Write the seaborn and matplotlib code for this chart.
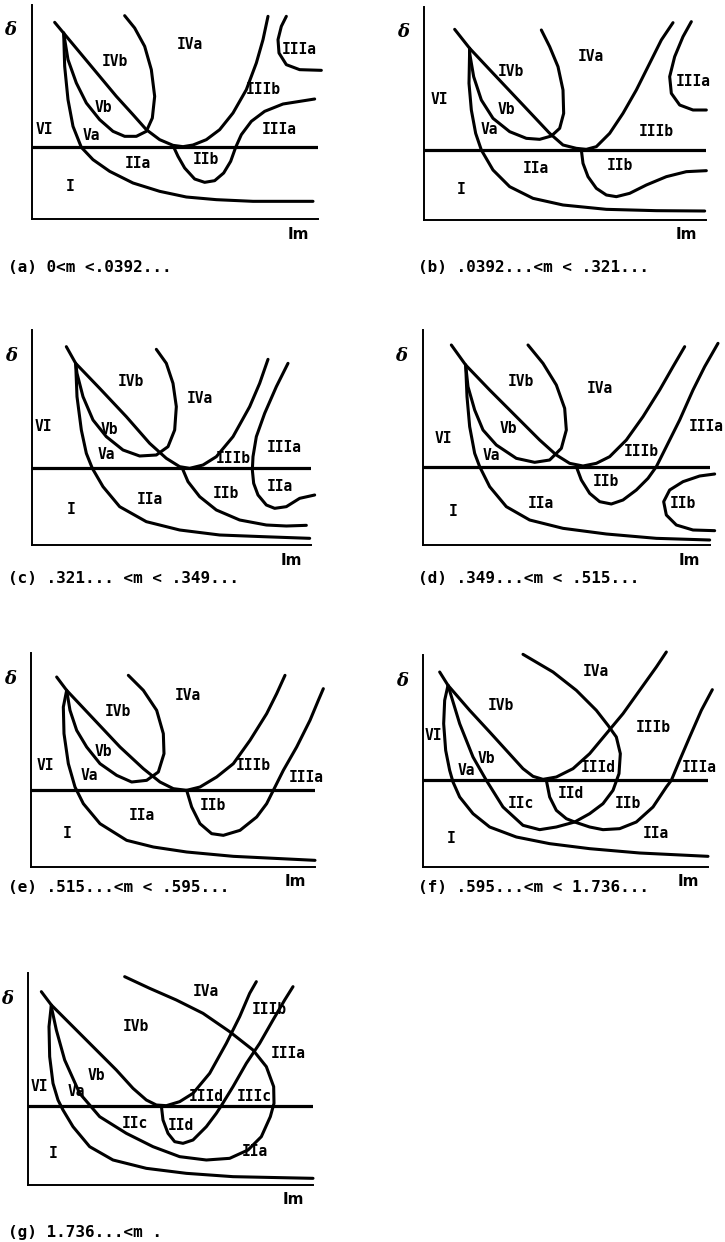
import matplotlib
matplotlib.use("Agg")
import matplotlib.pyplot as plt
import pandas as pd
import seaborn as sns

sns.set_style("white")
plt.rcParams["font.family"] = ["DejaVu Sans Mono", "DejaVu Sans"]
plt.rcParams["text.color"] = "black"

# ---- curve traces (Im along x, delta along y; delta = 0 is the reference line) ----
# (a) 0 < m < .0392...
a_parab = [(68,375),(103,333),(153,273),(203,213),(253,153),(303,98),(343,53),(383,23),(423,6),(453,2),(483,7),(523,23),(563,53),(603,103),(643,173),(673,253),(693,323),(708,393)]
a_vi = [(95,343),(98,243),(108,143),(123,63),(148,0),(183,-37),(233,-72),(303,-107),(383,-132),(463,-149),(553,-157),(663,-162),(843,-162)]
a_loop = [(278,395),(308,358),(338,303),(358,233),(368,153),(361,88),(343,48),(313,33),(278,33),(243,48),(203,83),(163,133),(133,193),(108,263),(95,343)]
a_iib = [(425,1),(438,-27),(458,-62),(488,-95),(518,-105),(548,-100),(575,-77),(596,-42),(611,0),(628,38),(658,78),(698,108),(753,130),(848,145)]
a_iiia = [(763,393),(748,363),(738,323),(741,283),(763,248),(803,233),(868,231)]
a_labels = [("IVb",248,258),("IVa",473,308),("IIIa",803,293),("IIIb",693,173),("Vb",213,118),("VI",38,55),("Va",178,36),("IIIa",743,53),("IIa",318,-47),("IIb",523,-37),("I",113,-117)]

# (b) .0392... < m < .321...
b_parab = [(92,362),(137,305),(197,241),(297,135),(377,50),(417,15),(457,5),(487,2),(517,10),(557,50),(597,110),(637,180),(677,260),(712,330),(747,382)]
b_vi = [(137,305),(135,200),(142,120),(155,50),(172,0),(207,-60),(257,-110),(327,-145),(417,-165),(547,-178),(697,-182),(842,-183)]
b_loop = [(352,360),(377,310),(402,250),(417,180),(419,110),(407,65),(382,42),(347,32),(307,35),(257,55),(207,95),(172,150),(149,220),(137,290),(137,305)]
b_iib = [(472,0),(477,-40),(492,-80),(517,-115),(547,-135),(577,-140),(617,-130),(667,-105),(727,-80),(787,-65),(847,-62)]
b_iiia = [(802,385),(777,340),(752,280),(737,220),(742,170),(767,135),(807,120),(847,120)]
b_labels = [("IVb",262,235),("IVa",502,280),("IIIa",807,205),("VI",47,150),("Vb",247,120),("Va",197,60),("IIIb",697,55),("IIa",337,-55),("IIb",587,-45),("I",112,-120)]

# (c) .321... < m < .349...
c_parab = [(103,365),(131,315),(203,240),(283,155),(353,75),(403,30),(443,5),(473,0),(513,10),(553,35),(603,95),(653,185),(683,255),(708,327)]
c_vi = [(131,315),(135,215),(148,115),(163,45),(181,0),(213,-55),(263,-115),(343,-160),(443,-185),(563,-200),(693,-205),(833,-210)]
c_loop = [(373,357),(403,315),(423,255),(433,185),(428,115),(408,65),(373,40),(323,37),(273,55),(223,95),(183,145),(153,215),(135,285),(131,315)]
c_iib = [(451,0),(468,-40),(503,-85),(553,-125),(623,-155),(703,-170),(763,-173),(823,-171)]
c_iiia = [(768,315),(733,245),(698,165),(673,95),(663,35),(661,-5),(665,-45),(678,-80),(703,-110),(728,-120),(763,-115),(803,-90),(848,-80)]
c_labels = [("IVb",298,260),("IVa",503,210),("VI",33,125),("Vb",233,115),("Va",223,40),("IIIb",603,30),("IIIa",758,63),("IIa",743,-55),("IIb",583,-75),("IIa",353,-95),("I",118,-125)]

# (d) .349... < m < .515...
d_parab = [(85,365),(128,305),(200,230),(280,150),(350,80),(400,35),(440,10),(480,2),(520,10),(560,30),(610,80),(660,150),(710,230),(750,300),(785,360)]
d_vi = [(128,305),(132,210),(140,120),(155,40),(170,0),(200,-60),(250,-120),(320,-160),(420,-185),(550,-202),(700,-215),(860,-220)]
d_loop = [(315,365),(360,310),(400,245),(425,175),(430,110),(415,55),(380,20),(335,13),(280,25),(220,65),(180,110),(155,170),(135,240),(128,305)]
d_iib = [(460,0),(475,-40),(500,-80),(530,-105),(565,-112),(600,-100),(640,-70),(675,-35),(700,0),(730,60),(770,140),(810,230),(845,300),(885,370)]
d_iib2 = [(875,-22),(830,-28),(780,-45),(740,-70),(722,-105),(730,-145),(760,-175),(810,-190),(875,-192)]
d_labels = [("IVb",295,255),("IVa",530,235),("IIIa",850,120),("VI",60,85),("Vb",255,115),("Va",205,35),("IIIb",655,45),("IIb",550,-45),("IIa",355,-110),("IIb",780,-110),("I",90,-135)]

# (e) .515... < m < .595...
e_parab = [(77,340),(107,300),(187,215),(267,130),(337,65),(387,25),(427,5),(467,0),(507,10),(557,40),(607,80),(657,150),(707,230),(737,290),(762,345)]
e_vi = [(107,300),(97,250),(99,170),(112,80),(132,10),(157,-40),(207,-100),(287,-150),(367,-170),(467,-185),(607,-198),(852,-210)]
e_loop = [(292,345),(337,300),(377,240),(397,170),(399,110),(382,55),(347,30),(302,25),(257,45),(207,80),(167,130),(137,180),(117,240),(107,300)]
e_iib = [(467,0),(482,-50),(507,-100),(542,-130),(577,-135),(627,-120),(677,-80),(707,-40),(727,0),(757,60),(797,130),(837,210),(862,270),(877,305)]
e_labels = [("IVb",262,235),("IVa",472,285),("Vb",217,117),("VI",42,75),("Va",175,45),("IIIb",667,75),("IIIa",827,40),("IIa",332,-75),("IIb",547,-45),("I",107,-130)]

# (f) .595... < m < 1.736...
f_parab = [(50,325),(75,285),(140,210),(200,145),(250,90),(300,35),(330,12),(360,3),(400,10),(450,35),(500,80),(550,140),(600,200),(650,270),(700,340),(730,385)]
f_vi = [(75,285),(65,240),(62,170),(68,90),(80,30),(90,-5),(110,-50),(150,-100),(200,-140),(280,-170),(380,-190),(500,-205),(650,-218),(855,-228)]
f_loop = [(75,285),(110,170),(150,70),(190,0),(240,-80),(300,-135),(350,-148),(400,-140),(455,-125),(500,-100),(540,-70),(570,-30),(588,20),(592,80),(580,130),(555,165),(520,210),(460,270),(390,325),(300,378)]
f_iid = [(370,0),(380,-50),(400,-90),(430,-115),(455,-125),(500,-140),(540,-148),(590,-145),(640,-125),(690,-80),(730,-20),(745,0),(770,60),(800,130),(835,210),(868,272)]
f_labels = [("IVa",520,325),("IVb",235,225),("IIIb",690,160),("VI",30,135),("Vb",190,65),("Va",130,30),("IIId",525,40),("IIIa",830,40),("IIc",295,-70),("IId",445,-40),("IIb",615,-70),("IIa",700,-160),("I",85,-175)]

# (g) 1.736... < m
g_parab = [(40,342),(70,302),(135,237),(205,167),(265,107),(315,52),(355,17),(385,2),(415,0),(455,12),(495,37),(545,97),(595,187),(635,267),(665,337),(685,372)]
g_loop = [(290,387),(365,352),(445,317),(525,277),(605,222),(675,167),(715,117),(737,57),(738,7),(727,-33),(700,-93),(660,-133),(605,-158),(535,-163),(455,-153),(375,-123),(295,-83),(215,-33),(155,37),(110,137),(85,227),(70,297)]
g_iid = [(400,0),(405,-43),(420,-83),(440,-108),(465,-113),(495,-103),(535,-63),(565,-23),(580,0),(615,57),(655,127),(695,187),(735,257),(770,317),(795,357)]
g_vi = [(70,302),(63,237),(65,147),(75,67),(90,17),(105,-13),(135,-63),(185,-123),(255,-163),(355,-188),(475,-203),(615,-213),(855,-218)]
g_labels = [("IVa",535,342),("IIIb",725,287),("IVb",325,237),("IIIa",780,157),("VI",33,57),("Va",145,44),("Vb",205,92),("IIId",535,27),("IIIc",680,27),("IIc",320,-53),("IId",460,-58),("IIa",680,-138),("I",75,-143)]

captions = ["(a) 0<m <.0392...", "(b) .0392...<m < .321...", "(c) .321... <m < .349...",
            "(d) .349...<m < .515...", "(e) .515...<m < .595...", "(f) .595...<m < 1.736...",
            "(g) 1.736...<m ."]

panels = [
    ([a_parab, a_vi, a_loop, a_iib, a_iiia], a_labels),
    ([b_parab, b_vi, b_loop, b_iib, b_iiia], b_labels),
    ([c_parab, c_vi, c_loop, c_iib, c_iiia], c_labels),
    ([d_parab, d_vi, d_loop, d_iib, d_iib2], d_labels),
    ([e_parab, e_vi, e_loop, e_iib], e_labels),
    ([f_parab, f_vi, f_loop, f_iid], f_labels),
    ([g_parab, g_loop, g_iid, g_vi], g_labels),
]

# ---- page layout in pixels: spine x, bottom-spine y, Im extent, delta range, caption position ----
FW, FH = 725, 1242
SCALE = 3.0  # curve units per pixel
layout = [
    dict(x0=32, yb=219, w=858, lo=-215, hi=428, cap=(8, 268)),
    dict(x0=424, yb=220, w=847, lo=-210, hi=430, cap=(418, 268)),
    dict(x0=32, yb=545, w=838, lo=-230, hi=415, cap=(8, 578)),
    dict(x0=423, yb=545, w=860, lo=-235, hi=410, cap=(418, 578)),
    dict(x0=31, yb=867, w=852, lo=-230, hi=411, cap=(8, 888)),
    dict(x0=423, yb=867, w=855, lo=-260, hi=375, cap=(418, 888)),
    dict(x0=28, yb=1185, w=855, lo=-238, hi=397, cap=(8, 1232)),
]

fig = plt.figure(figsize=(FW / 100, FH / 100), dpi=100)
fig.patch.set_facecolor("white")

for (curves, labels), lay, caption in zip(panels, layout, captions):
    wpx = lay["w"] / SCALE
    hpx = (lay["hi"] - lay["lo"]) / SCALE
    ax = fig.add_axes([lay["x0"] / FW, 1 - lay["yb"] / FH, wpx / FW, hpx / FH])
    ax.set_facecolor("none")
    for pts in curves:
        df = pd.DataFrame(pts, columns=["Im", "delta"])
        sns.lineplot(data=df, x="Im", y="delta", sort=False, estimator=None,
                     color="black", linewidth=2.2, ax=ax, clip_on=False)
    ax.axhline(0, color="black", linewidth=2.3)
    for txt, lx, ly in labels:
        ax.text(lx, ly, txt, ha="center", va="center", fontsize=10.5,
                fontweight="bold", color="black", clip_on=False)
    ax.set_xlim(0, lay["w"])
    ax.set_ylim(lay["lo"], lay["hi"])
    ax.set_xticks([])
    ax.set_yticks([])
    ax.set_xlabel("")
    ax.set_ylabel("")
    sns.despine(ax=ax)
    for s in ("left", "bottom"):
        ax.spines[s].set_linewidth(1.4)
        ax.spines[s].set_color("black")
    # axis names
    ax.text(-0.075, 0.88, "δ", transform=ax.transAxes, ha="center", va="center",
            fontsize=13, fontstyle="italic", fontweight="bold", color="black",
            family=["DejaVu Serif", "DejaVu Sans"])
    ax.text(0.93, -0.07, "Im", transform=ax.transAxes, ha="center", va="center",
            fontsize=11, fontweight="bold", color="black",
            family=["DejaVu Sans", "DejaVu Sans Mono"])
    cx, cy = lay["cap"]
    fig.text(cx / FW, 1 - cy / FH, caption, ha="left", va="center",
             fontsize=11.5, fontweight="bold", color="black")

fig.savefig("out.png", dpi=100, facecolor="white")
